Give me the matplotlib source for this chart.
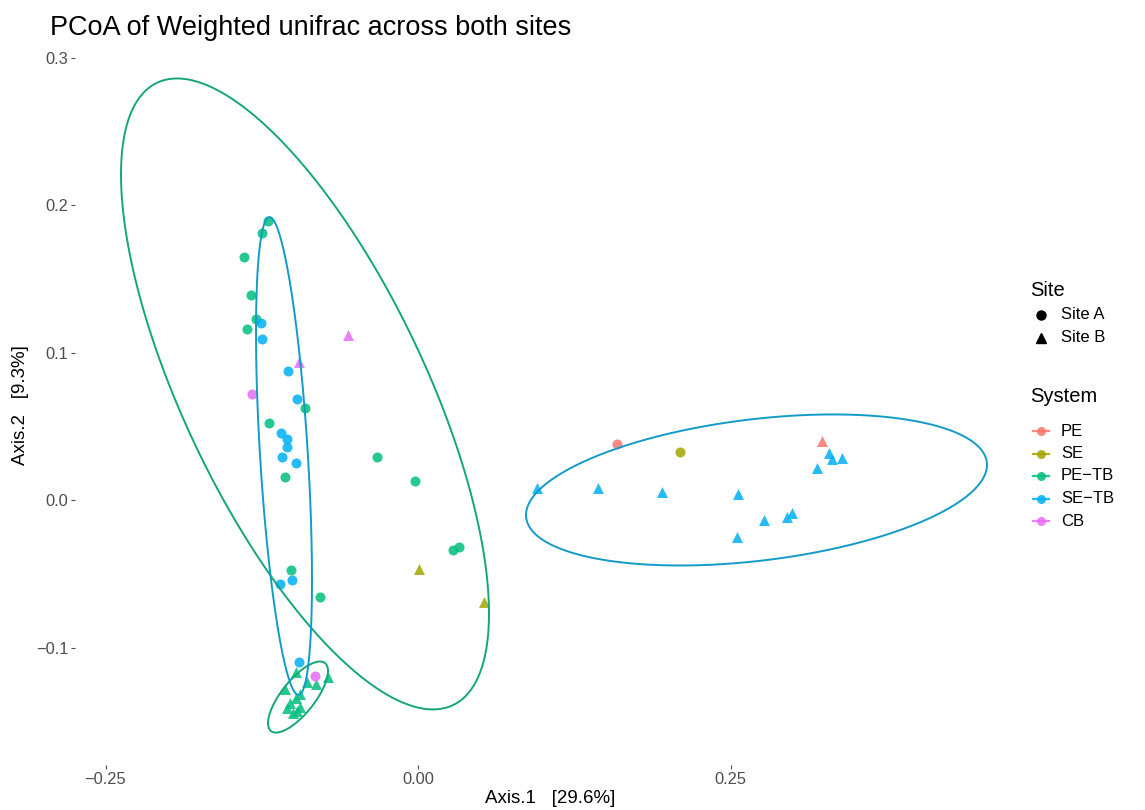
import numpy as np
import matplotlib
matplotlib.use("Agg")
import matplotlib.pyplot as plt
from matplotlib.lines import Line2D

plt.rcParams['font.family'] = ['Liberation Sans', 'DejaVu Sans']

# ---- ordination scores (Axis.1, Axis.2) per system and site ----
systems = ["PE", "SE", "PE\u2212TB", "SE\u2212TB", "CB"]
system_colors = ["#F8766D", "#A3A500", "#00BF7D", "#00B0F6", "#E76BF3"]
sites = ["Site A", "Site B"]

pe_a_x = [0.159]
pe_a_y = [0.0377]
pe_b_x = [0.3232]
pe_b_y = [0.040]

se_a_x = [0.2096]
se_a_y = [0.0323]
se_b_x = [0.0008, 0.0528]
se_b_y = [-0.0468, -0.0689]

petb_a_x = [-0.120, -0.1245, -0.139, -0.134, -0.130, -0.137, -0.0904, -0.1192,
            -0.1064, -0.0326, -0.0024, 0.0277, 0.0328, -0.1019, -0.0784]
petb_a_y = [0.189, 0.181, 0.165, 0.139, 0.1225, 0.1157, 0.0622, 0.0524,
            0.0154, 0.0294, 0.0131, -0.0339, -0.0321, -0.0475, -0.0658]
petb_b_x = [-0.0976, -0.072, -0.0888, -0.0816, -0.1064, -0.0944, -0.0976,
            -0.1024, -0.0944, -0.1048, -0.1000, -0.0968]
petb_b_y = [-0.1166, -0.120, -0.1234, -0.1247, -0.1281, -0.1315, -0.1342,
            -0.1376, -0.1403, -0.1410, -0.1444, -0.1430]

setb_a_x = [-0.1256, -0.125, -0.1037, -0.0965, -0.1096, -0.105, -0.105,
            -0.109, -0.0979, -0.1005, -0.1104, -0.0952]
setb_a_y = [0.1198, 0.109, 0.0875, 0.0683, 0.0452, 0.0414, 0.0357,
            0.0292, 0.0253, -0.0542, -0.0569, -0.1096]
setb_b_x = [0.0952, 0.144, 0.1952, 0.256, 0.2768, 0.2952, 0.2992, 0.2552,
            0.3288, 0.3312, 0.3392, 0.3192]
setb_b_y = [0.0081, 0.0081, 0.0054, 0.0041, -0.0136, -0.0115, -0.0088,
            -0.0251, 0.0319, 0.0278, 0.0285, 0.0217]

cb_a_x = [-0.1325, -0.0821]
cb_a_y = [0.0719, -0.1191]
cb_b_x = [-0.0557, -0.0952]
cb_b_y = [0.1119, 0.0938]

groups = [
    ("PE", "Site A", pe_a_x, pe_a_y), ("PE", "Site B", pe_b_x, pe_b_y),
    ("SE", "Site A", se_a_x, se_a_y), ("SE", "Site B", se_b_x, se_b_y),
    ("PE\u2212TB", "Site A", petb_a_x, petb_a_y), ("PE\u2212TB", "Site B", petb_b_x, petb_b_y),
    ("SE\u2212TB", "Site A", setb_a_x, setb_a_y), ("SE\u2212TB", "Site B", setb_b_x, setb_b_y),
    ("CB", "Site A", cb_a_x, cb_a_y), ("CB", "Site B", cb_b_x, cb_b_y),
]

# ---- confidence ellipses: centre, x/y spread and correlation ----
ell_system = ["PE\u2212TB", "PE\u2212TB", "SE\u2212TB", "SE\u2212TB"]
ell_cx = [-0.0904, -0.096, -0.1072, 0.2708]
ell_cy = [0.0719, -0.1336, 0.0298, 0.0068]
ell_sx = [0.1472, 0.024, 0.0224, 0.1844]
ell_sy = [0.2139, 0.0241, 0.162, 0.0512]
ell_r = [-0.6955, 0.733, -0.518, 0.332]
ell_line_colors = {"PE\u2212TB": "#14A67A", "SE\u2212TB": "#139BC8"}

W, H = 1145, 810
fig = plt.figure(figsize=(W / 100, H / 100), dpi=100)
fig.patch.set_facecolor("white")

# panel in pixel units -> figure fraction
pl, pr, pt, pb = 75, 1025, 46, 765
ax = fig.add_axes([pl / W, 1 - pb / H, (pr - pl) / W, (pb - pt) / H])
ax.set_facecolor("white")

color_of = dict(zip(systems, system_colors))
marker_of = {"Site A": "o", "Site B": "^"}
size_of = {"Site A": 52, "Site B": 62}

for system, site, xs, ys in groups:
    ax.scatter(xs, ys, s=size_of[site], marker=marker_of[site],
               color=color_of[system], alpha=0.85, linewidths=0, zorder=2)

t = np.linspace(0, 2 * np.pi, 361)
for sysname, cx, cy, sx, sy, r in zip(ell_system, ell_cx, ell_cy, ell_sx, ell_sy, ell_r):
    ex = cx + sx * np.cos(t)
    ey = cy + sy * (r * np.cos(t) + np.sqrt(1 - r ** 2) * np.sin(t))
    ax.plot(ex, ey, color=ell_line_colors[sysname], lw=1.4, zorder=3)

ax.set_xlim((pl - 418) / 1250, (pr - 418) / 1250)
ax.set_ylim((500 - pb) / 1475, (500 - pt) / 1475)

ax.set_xticks([-0.25, 0.0, 0.25])
ax.set_xticklabels(["\u22120.25", "0.00", "0.25"])
ax.set_yticks([-0.1, 0.0, 0.1, 0.2, 0.3])
ax.set_yticklabels(["\u22120.1", "0.0", "0.1", "0.2", "0.3"])
ax.tick_params(axis="both", length=3, width=0.8, color="#4D4D4D",
               labelcolor="#4D4D4D", labelsize=11.8, pad=2)
for sp in ax.spines.values():
    sp.set_visible(False)

ax.set_xlabel("Axis.1   [29.6%]", fontsize=13.5, color="black", labelpad=2)
ax.set_ylabel("Axis.2   [9.3%]", fontsize=13.5, color="black", labelpad=5)

fig.text(50 / W, 1 - 28 / H, "PCoA of Weighted unifrac across both sites",
         fontsize=19.5, ha="left", va="center", color="black")

# ---- legends drawn in figure pixel coordinates ----
def fx(px):
    return px / W

def fy(py):
    return 1 - py / H

fig.text(fx(1030), fy(290), "Site", fontsize=14.5, ha="left", va="center")
for i, site in enumerate(sites):
    yy = 315 + i * 23
    fig.add_artist(Line2D([fx(1041)], [fy(yy)], marker=marker_of[site],
                          markersize=6.5 if site == "Site A" else 7.5,
                          color="black", linestyle="none", transform=fig.transFigure))
    fig.text(fx(1061), fy(yy), site, fontsize=12, ha="left", va="center")

fig.text(fx(1030), fy(397), "System", fontsize=14.5, ha="left", va="center")
for i, (sysname, col) in enumerate(zip(systems, system_colors)):
    yy = 431 + i * 22.5
    fig.add_artist(Line2D([fx(1033), fx(1049)], [fy(yy), fy(yy)], color=col,
                          lw=1.6, alpha=0.85, transform=fig.transFigure))
    fig.add_artist(Line2D([fx(1041)], [fy(yy)], marker="o", markersize=6.5,
                          color=col, alpha=0.85, markeredgewidth=0,
                          linestyle="none", transform=fig.transFigure))
    fig.text(fx(1061), fy(yy), sysname, fontsize=12, ha="left", va="center")

fig.savefig("out.png", dpi=100, facecolor="white")
